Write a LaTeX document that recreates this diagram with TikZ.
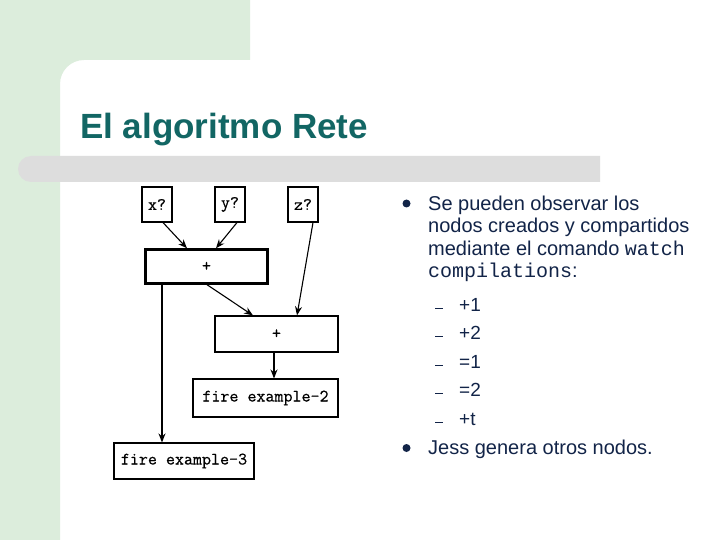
\documentclass[tikz,border=0pt]{standalone}
\usepackage{fontspec}
\setmainfont{Liberation Sans}
\newfontfamily\monofont{Liberation Mono}
\newfontfamily\boxfont[FakeBold=0.6]{Latin Modern Mono}
\usetikzlibrary{arrows.meta}
\definecolor{bggreen}{RGB}{220,237,220}
\definecolor{bargray}{RGB}{221,221,221}
\definecolor{titleteal}{RGB}{18,102,100}
\definecolor{navy}{RGB}{18,36,72}
\tikzset{
  box/.style={draw=black, line width=1.1pt, fill=white, inner sep=0pt, font=\boxfont\fontsize{17.5}{17.5}\selectfont},
  thickbox/.style={box, line width=2.4pt},
  arr/.style={-{Stealth[length=9pt,width=7pt]}, line width=1.1pt},
  thickarr/.style={arr, line width=2pt},
  bodytext/.style={anchor=base west, inner sep=0pt, text=navy, font=\fontsize{20}{20}\selectfont},
  subtext/.style={anchor=base west, inner sep=0pt, text=navy, font=\fontsize{19}{19}\selectfont},
  bulletdot/.style={circle, fill=navy, inner sep=0pt, minimum size=8pt},
  subdash/.style={draw=navy, line width=1pt},
}
\begin{document}
\begin{tikzpicture}[x=1pt,y=-1pt]
\useasboundingbox (0,0) rectangle (720,540);
% background
\fill[white] (0,0) rectangle (720,540);
\fill[bggreen] (0,0) -- (250,0) -- (250,60) -- (84,60) arc[start angle=270,end angle=180,radius=24] -- (60,540) -- (0,540) -- cycle;
\fill[bargray] (31,156) -- (600,156) -- (600,182) -- (31,182) arc[start angle=90,end angle=270,radius=13] -- cycle;
% title
\node[anchor=base west, inner sep=0pt, text=titleteal, font=\fontsize{35}{35}\selectfont\bfseries] (title) at (80,139) {El algoritmo Rete};
% diagram
\node[box, minimum width=30pt, minimum height=35pt] (x) at (157,204.5) {x?};
\node[box, minimum width=30pt, minimum height=35pt] (y) at (230,204.5) {y?};
\node[box, minimum width=30pt, minimum height=35pt] (z) at (303,204.5) {z?};
\node[thickbox, minimum width=122pt, minimum height=34pt] (p1) at (206.5,266.5) {+};
\node[box, minimum width=123pt, minimum height=36pt] (p2) at (276.5,334) {+};
\node[box, minimum width=145pt, minimum height=38pt] (f2) at (265.5,398) {fire example-2};
\node[box, minimum width=140pt, minimum height=36pt] (f3) at (184,461) {fire example-3};
\draw[arr] ([xshift=6pt]x.south) -- ([xshift=-19.5pt]p1.north);
\draw[arr] ([xshift=7pt]y.south) -- ([xshift=9.5pt]p1.north);
\draw[arr] ([xshift=10pt]z.south) -- ([xshift=20.5pt]p2.north);
\draw[arr] ([xshift=0.5pt]p1.south) -- ([xshift=-23.5pt]p2.north);
\draw[thickarr] ([xshift=-44.5pt]p1.south) -- ([xshift=-22pt]f3.north);
\draw[arr] ([xshift=-2.5pt]p2.south) -- ([xshift=8.5pt]f2.north);
% text
\node[bulletdot] (b1) at (406.5,203.5) {};
\node[bodytext] (t1) at (428,211) {Se pueden observar los};
\node[bodytext] (t2) at (428,233) {nodos creados y compartidos};
\node[bodytext] (t3) at (428,255) {mediante el comando {\monofont\fontsize{20}{20}\selectfont watch}};
\node[bodytext] (t4) at (428,277) {{\monofont\fontsize{20}{20}\selectfont compilations}:};
\foreach \yy/\tt/\nm in {311/+1/s1, 339.5/+2/s2, 368/=1/s3, 396.5/=2/s4, 425/+t/s5}{
  \draw[subdash] (435,\yy-3) -- (443,\yy-3);
  \node[subtext] (\nm) at (459,\yy) {\tt};
}
\node[bulletdot] (b2) at (406.5,448) {};
\node[bodytext] (t5) at (428,454) {Jess genera otros nodos.};
\end{tikzpicture}
\end{document}
